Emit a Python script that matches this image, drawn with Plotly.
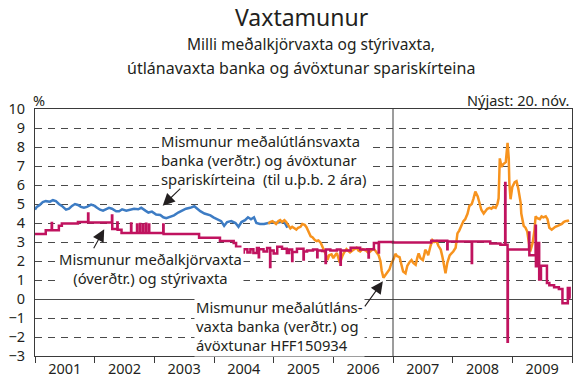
import plotly.graph_objects as go

# Time axis in decimal years
# Spread: average indexed lending rates vs. savings bond yield (~2 yr)
t_utlan_spari = [2001.00, 2001.03, 2001.08, 2001.13, 2001.18, 2001.25, 2001.30, 2001.35, 2001.40, 2001.45,
                 2001.52, 2001.57, 2001.62, 2001.67, 2001.72, 2001.77, 2001.82, 2001.87, 2001.94, 2002.00,
                 2002.04, 2002.09, 2002.14, 2002.19, 2002.24, 2002.29, 2002.36, 2002.41, 2002.46, 2002.53,
                 2002.59, 2002.66, 2002.73, 2002.78, 2002.85, 2002.90, 2002.96, 2003.03, 2003.10, 2003.15,
                 2003.20, 2003.27, 2003.33, 2003.40, 2003.47, 2003.53, 2003.60, 2003.67, 2003.72, 2003.77,
                 2003.84, 2003.89, 2003.94, 2003.99, 2004.05, 2004.12, 2004.17, 2004.22, 2004.29, 2004.36,
                 2004.41, 2004.46, 2004.52, 2004.57, 2004.62, 2004.67, 2004.71, 2004.77, 2004.84, 2004.91,
                 2004.98, 2005.04, 2005.11, 2005.18, 2005.23]
v_utlan_spari = [4.70, 4.85, 4.95, 5.10, 5.15, 5.12, 5.20, 5.15, 5.00, 4.90,
                 4.70, 4.75, 4.90, 5.00, 4.95, 4.85, 4.80, 4.85, 4.97, 4.90,
                 4.80, 4.70, 4.65, 4.72, 4.80, 4.75, 4.62, 4.62, 4.72, 4.65,
                 4.70, 4.75, 4.72, 4.80, 4.65, 4.55, 4.60, 4.45, 4.42, 4.30,
                 4.25, 4.35, 4.40, 4.55, 4.65, 4.75, 4.80, 4.88, 4.75, 4.62,
                 4.50, 4.45, 4.40, 4.30, 4.20, 4.10, 3.85, 4.05, 4.10, 4.00,
                 3.80, 4.05, 4.15, 4.30, 4.20, 4.30, 4.00, 3.95, 3.95, 4.00,
                 4.05, 4.00, 4.05, 4.05, 3.75]

# Spread: average indexed lending rates vs. HFF150934 yield
t_utlan_hff = [2004.91, 2004.94, 2004.98, 2005.01, 2005.04, 2005.08, 2005.11, 2005.14, 2005.18, 2005.21,
               2005.24, 2005.28, 2005.31, 2005.35, 2005.38, 2005.41, 2005.45, 2005.48, 2005.52, 2005.55,
               2005.58, 2005.62, 2005.65, 2005.69, 2005.72, 2005.75, 2005.79, 2005.82, 2005.85, 2005.88,
               2005.90, 2005.93, 2005.97, 2006.00, 2006.03, 2006.06, 2006.09, 2006.11, 2006.15, 2006.18,
               2006.22, 2006.25, 2006.28, 2006.32, 2006.35, 2006.39, 2006.42, 2006.45, 2006.49, 2006.52,
               2006.55, 2006.59, 2006.62, 2006.66, 2006.69, 2006.72, 2006.76, 2006.79, 2006.81, 2006.84,
               2006.86, 2006.89, 2006.94, 2006.97, 2007.01, 2007.04, 2007.07, 2007.11, 2007.14, 2007.17,
               2007.21, 2007.24, 2007.28, 2007.31, 2007.34, 2007.38, 2007.41, 2007.43, 2007.46, 2007.50,
               2007.53, 2007.54, 2007.58, 2007.59, 2007.63, 2007.66, 2007.69, 2007.73, 2007.76, 2007.80,
               2007.83, 2007.85, 2007.88, 2007.91, 2007.95, 2007.98, 2008.01, 2008.05, 2008.08, 2008.11,
               2008.15, 2008.18, 2008.21, 2008.25, 2008.28, 2008.32, 2008.35, 2008.38, 2008.42, 2008.45,
               2008.48, 2008.52, 2008.55, 2008.58, 2008.62, 2008.65, 2008.68, 2008.72, 2008.75, 2008.77,
               2008.79, 2008.82, 2008.85, 2008.89, 2008.92, 2008.94, 2008.95, 2008.97, 2009.00, 2009.04,
               2009.07, 2009.10, 2009.14, 2009.15, 2009.19, 2009.22, 2009.25, 2009.29, 2009.30, 2009.34,
               2009.37, 2009.39, 2009.42, 2009.46, 2009.49, 2009.52, 2009.56, 2009.59, 2009.62, 2009.66,
               2009.69, 2009.72, 2009.76, 2009.79, 2009.83, 2009.86, 2009.89, 2009.93, 2009.94]
v_utlan_hff = [3.95, 4.05, 4.10, 4.00, 3.95, 4.10, 4.15, 4.05, 4.15, 4.05,
               3.90, 3.72, 3.80, 3.70, 3.65, 3.75, 3.80, 3.95, 3.90, 3.78,
               3.55, 3.30, 3.25, 3.10, 3.05, 3.08, 2.95, 2.75, 2.55, 2.30,
               2.05, 2.30, 2.35, 2.15, 2.30, 2.42, 2.10, 1.90, 2.25, 2.45,
               2.62, 2.55, 2.45, 2.55, 2.60, 2.70, 2.55, 2.50, 2.62, 2.60,
               2.55, 2.42, 2.50, 2.62, 2.60, 2.45, 2.30, 1.98, 1.50, 1.12,
               1.22, 1.30, 1.55, 1.85, 2.10, 2.38, 2.25, 2.20, 1.80, 1.45,
               1.35, 1.75, 1.95, 2.05, 1.90, 1.80, 2.20, 2.40, 2.15, 2.05,
               2.40, 2.60, 2.40, 2.30, 2.80, 3.10, 3.00, 3.05, 2.80, 2.60,
               2.20, 1.90, 1.35, 1.90, 2.30, 2.40, 2.50, 2.70, 3.45, 3.60,
               3.95, 4.10, 4.20, 4.50, 4.90, 5.00, 5.30, 5.65, 5.40, 5.10,
               4.70, 4.50, 4.65, 4.75, 4.80, 4.75, 4.85, 4.80, 5.00, 5.30,
               7.40, 6.95, 7.10, 7.20, 8.22, 7.40, 6.10, 5.25, 5.90, 6.15,
               6.20, 5.80, 5.05, 4.50, 3.85, 3.75, 3.55, 2.70, 2.50, 2.95,
               3.60, 4.35, 4.25, 4.20, 4.35, 4.30, 4.35, 4.20, 3.75, 3.65,
               3.75, 3.80, 3.85, 3.90, 3.95, 4.05, 4.10, 4.12, 4.05]

# Spread: average prime rate (non-indexed) vs. policy rate (step series)
t_kjor_styri = [2001.000, 2001.180, 2001.280, 2001.285, 2001.400, 2001.450, 2001.720, 2001.890, 2001.895, 2002.290,
                2002.295, 2002.380, 2002.385, 2002.450, 2002.610, 2002.615, 2002.710, 2002.715, 2002.760, 2002.765,
                2002.810, 2002.815, 2002.860, 2002.865, 2002.910, 2002.915, 2003.150, 2003.155, 2003.750, 2004.100,
                2004.330, 2004.370, 2004.440, 2004.500, 2004.560, 2004.610, 2004.660, 2004.720, 2004.750, 2004.755,
                2004.830, 2004.890, 2004.940, 2004.945, 2005.000, 2005.060, 2005.140, 2005.220, 2005.260, 2005.310,
                2005.315, 2005.390, 2005.500, 2005.505, 2005.560, 2005.660, 2005.730, 2005.735, 2005.810, 2005.870,
                2005.875, 2005.950, 2006.060, 2006.120, 2006.125, 2006.290, 2006.450, 2006.570, 2006.590, 2006.595,
                2006.680, 2006.760, 2006.765, 2006.840, 2007.000, 2007.640, 2007.910, 2007.915, 2008.320, 2008.325,
                2008.630, 2008.800, 2008.880, 2008.885, 2008.920, 2008.925, 2009.280, 2009.285, 2009.390, 2009.395,
                2009.420, 2009.450, 2009.480, 2009.580, 2009.620, 2009.700, 2009.780, 2009.840, 2009.930, 2009.960,
                2009.975]
v_kjor_styri = [3.42, 3.62, 4.00, 3.62, 3.85, 3.97, 4.05, 4.50, 4.02, 4.40,
                3.68, 4.02, 3.65, 3.48, 3.98, 3.48, 3.92, 3.48, 3.95, 3.48,
                3.92, 3.48, 3.96, 3.48, 3.92, 3.48, 3.92, 3.42, 3.22, 3.05,
                2.95, 2.75, 2.45, 2.62, 2.45, 2.62, 2.42, 2.68, 2.20, 2.62,
                2.50, 2.68, 1.68, 2.55, 2.40, 2.75, 2.65, 2.42, 2.60, 2.00,
                2.48, 2.65, 2.08, 2.50, 2.55, 2.60, 2.20, 2.55, 2.52, 1.90,
                2.60, 2.55, 2.60, 1.80, 2.55, 2.70, 2.60, 2.62, 2.18, 2.62,
                2.95, 2.45, 3.00, 3.00, 2.98, 3.06, 2.62, 3.03, 1.90, 3.03,
                2.92, 2.86, 6.10, 2.86, -2.25, 2.60, 3.50, 2.30, 3.85, 1.72,
                2.95, 1.02, 1.75, 0.84, 0.72, 0.62, 0.52, -0.22, 0.58, 0.05,
                0.05]

years = list(range(2001, 2010))
year_labels = [str(y) for y in years]

FONT = "Noto Sans"
INK = "#231f20"
AXIS = "#3a3a3a"

fig = go.Figure()

fig.add_trace(go.Scatter(x=t_utlan_spari, y=v_utlan_spari, mode="lines",
                         line=dict(color="#3d7cc4", width=2.5), showlegend=False))
fig.add_trace(go.Scatter(x=t_utlan_hff, y=v_utlan_hff, mode="lines",
                         line=dict(color="#f7931e", width=2.5), showlegend=False))
fig.add_trace(go.Scatter(x=t_kjor_styri, y=v_kjor_styri, mode="lines",
                         line=dict(color="#c0135f", width=2.5, shape="hv"), showlegend=False))

# Start of 2007 marker
fig.add_shape(type="line", xref="x", yref="paper", x0=2007, x1=2007, y0=0, y1=1,
              line=dict(color=AXIS, width=1))

fig.update_xaxes(range=[2001, 2010], showgrid=False, zeroline=False,
                 showline=True, linecolor=AXIS, linewidth=1, mirror=True,
                 tickmode="array", tickvals=[y + 0.5 for y in years], ticktext=year_labels,
                 ticks="", tickfont=dict(family=FONT, size=14.5, color=INK),
                 minor=dict(tickmode="array", tickvals=list(range(2001, 2011)),
                            ticks="outside", ticklen=6, tickcolor=AXIS, showgrid=False))
fig.update_yaxes(range=[-3, 10], tickmode="linear", tick0=0, dtick=1,
                 showgrid=True, gridcolor="#4a4a4a", gridwidth=1, griddash="7px,6px",
                 zeroline=True, zerolinecolor="#4a4a4a", zerolinewidth=1,
                 showline=True, linecolor=AXIS, linewidth=1, mirror=True,
                 ticks="", ticklabelstandoff=6,
                 tickfont=dict(family=FONT, size=14.5, color=INK))

def label(text, x, y, xanchor="left", align="left", **kw):
    fig.add_annotation(text=text, x=x, y=y, xref="x", yref="y", showarrow=False,
                       xanchor=xanchor, yanchor="middle", align=align,
                       bgcolor="white", borderpad=1,
                       font=dict(family=FONT, size=14.8, color=INK), **kw)

def arrow(tail, head):
    fig.add_annotation(text="", x=head[0], y=head[1], ax=tail[0], ay=tail[1],
                       xref="x", yref="y", axref="x", ayref="y",
                       showarrow=True, arrowhead=2, arrowsize=2.2, arrowwidth=1.1,
                       arrowcolor=INK, standoff=0, startstandoff=0)

label("Mismunur meðalútlánsvaxta<br>banka (verðtr.) og ávöxtunar<br>spariskírteina  (til u.þ.b. 2 ára)",
      2003.08, 7.33)
label("Mismunur meðalkjörvaxta<br>(óverðtr.) og stýrivaxta", 2002.93, 1.59,
      xanchor="center", align="center")
label("Mismunur meðalútláns-<br>vaxta banka (verðtr.) og<br>ávöxtunar HFF150934", 2003.66, -1.41)

arrow((2003.46, 5.89), (2003.14, 4.91))
arrow((2001.97, 2.59), (2002.16, 3.67))
arrow((2006.51, -0.47), (2006.83, 0.93))

def paper_text(text, x, y, size, xanchor="center"):
    fig.add_annotation(text=text, x=x, y=y, xref="paper", yref="paper", showarrow=False,
                       xanchor=xanchor, yanchor="middle",
                       font=dict(family=FONT, size=size, color=INK))

paper_text("Vaxtamunur", 0.497, 1.372, 23)
paper_text("Milli meðalkjörvaxta og stýrivaxta,", 0.514, 1.263, 15.5)
paper_text("útlánavaxta banka og ávöxtunar spariskírteina", 0.495, 1.166, 16)
paper_text("Nýjast: 20. nóv.", 1.0, 1.036, 14.5, xanchor="right")
paper_text("%", 0.007, 1.036, 14.5, xanchor="center")

fig.update_layout(width=574, height=380, margin=dict(l=35, r=2, t=109, b=24),
                  paper_bgcolor="white", plot_bgcolor="white",
                  font=dict(family=FONT, color=INK))

fig.write_html("out.html")
